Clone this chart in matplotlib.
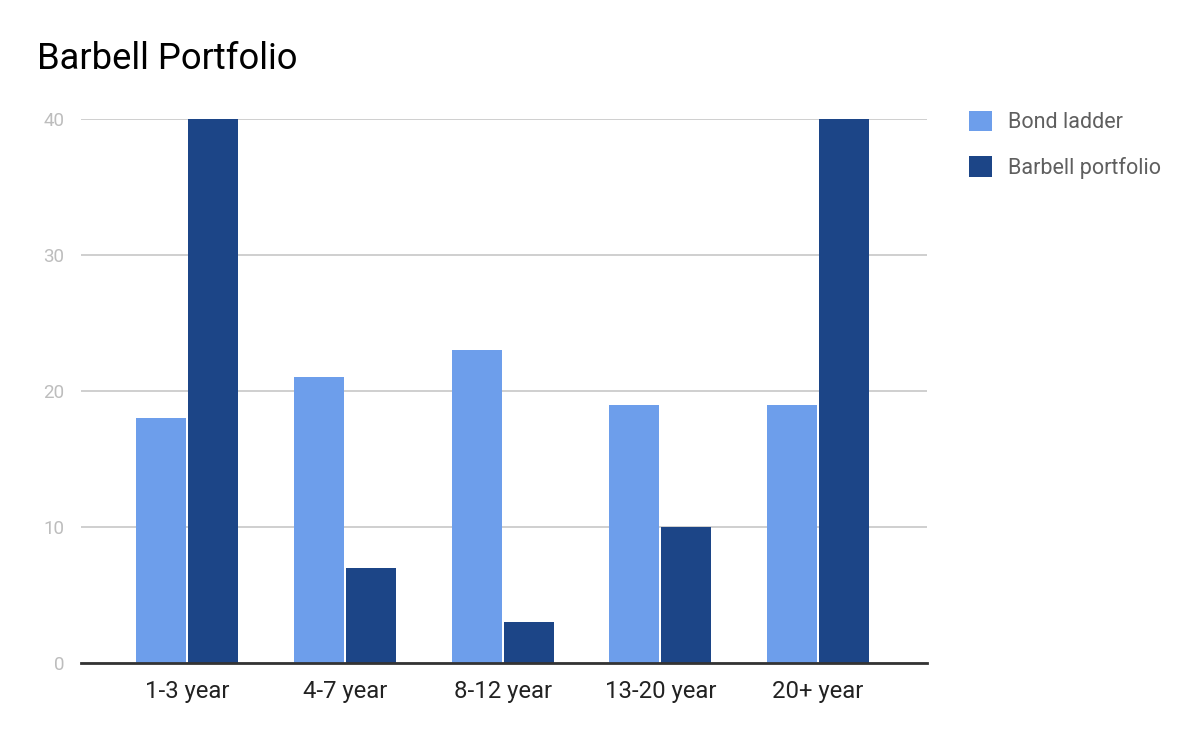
import numpy as np
import matplotlib.pyplot as plt

plt.rcParams['font.family'] = ['Roboto', 'DejaVu Sans']

# data
categories = ['1-3 year', '4-7 year', '8-12 year', '13-20 year', '20+ year']
bond_ladder = [18, 21, 23, 19, 19]
barbell = [40, 7, 3, 10, 40]
series_names = ['Bond ladder', 'Barbell portfolio']
colors = ['#6d9eeb', '#1c4587']

fig = plt.figure(figsize=(12, 7.42), dpi=100)
ax = fig.add_axes([81 / 1200, 79 / 742, 846 / 1200, 544 / 742])

x = np.arange(len(categories))
w = 0.317
off = 0.165
b1 = ax.bar(x - off, bond_ladder, w, color=colors[0], label=series_names[0], zorder=3)
b2 = ax.bar(x + off, barbell, w, color=colors[1], label=series_names[1], zorder=3)

ax.set_xlim(-0.672, 4.69)
ax.set_ylim(0, 40)
ax.set_yticks([0, 10, 20, 30, 40])
ax.yaxis.grid(True, color='#cccccc', linewidth=1.3, zorder=0)
ax.set_axisbelow(True)
for s in ['top', 'right', 'left']:
    ax.spines[s].set_visible(False)
ax.spines['bottom'].set_color('#333333')
ax.spines['bottom'].set_linewidth(2)
ax.spines['bottom'].set_zorder(4)

ax.set_xticks(x)
ax.set_xticklabels(categories, fontsize=17.2, color='#222222')
ax.tick_params(axis='x', length=0, pad=12)
ax.tick_params(axis='y', length=0, pad=12, labelsize=13.5, labelcolor='#bdbdbd')
for lbl in ax.get_yticklabels():
    lbl.set_horizontalalignment('right')

fig.text(37 / 1200, 1 - 59 / 742, 'Barbell Portfolio', fontsize=26.2, color='#000000',
         va='center', ha='left')

leg = fig.legend(handles=[b1, b2], loc='upper left', bbox_to_anchor=(960 / 1200, 1 - 102 / 742),
                 frameon=False, fontsize=15.5, handlelength=1.1, handleheight=1.1,
                 handletextpad=0.75, labelspacing=1.05, borderaxespad=0)
for t in leg.get_texts():
    t.set_color('#5f5f5f')

fig.savefig('out.png', dpi=100)
